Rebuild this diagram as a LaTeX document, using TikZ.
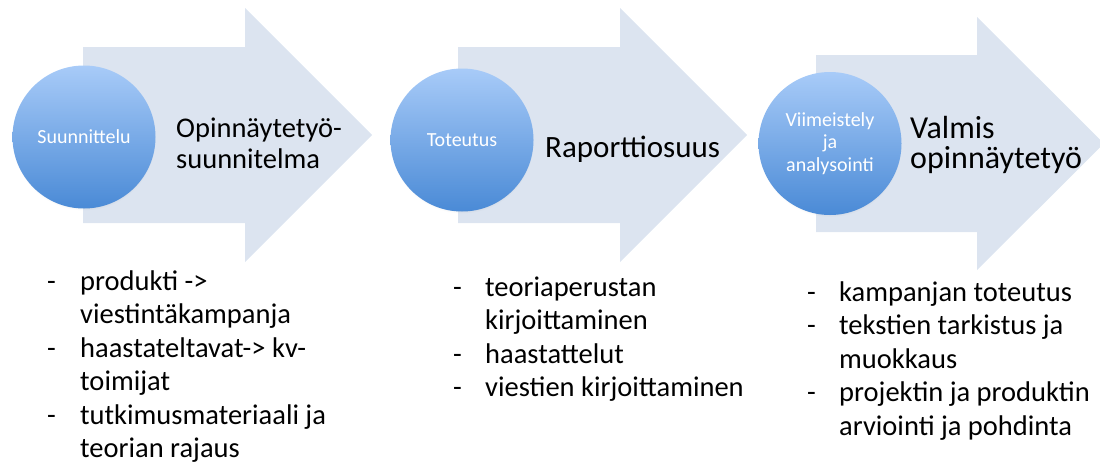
\documentclass[tikz,border=0pt]{standalone}
\usepackage{fontspec}
\setmainfont{Carlito}
\usetikzlibrary{shadows}
\definecolor{arrowfill}{HTML}{DCE4F0}
\definecolor{circtop}{HTML}{A8CBF8}
\definecolor{circbot}{HTML}{4A8AD6}
\tikzset{
  bigarrow/.style={fill=arrowfill, draw=none},
  circ/.style={circle, minimum size=143pt, inner sep=0pt, top color=circtop, bottom color=circbot, draw=none, text=white, align=center, font={\fontsize{20}{22.5}\selectfont}, circular drop shadow={shadow xshift=0pt, shadow yshift=-2pt, opacity=0.25, shadow scale=1.0}},
  headtext/.style={anchor=base west, align=left, inner sep=0pt},
  listtext/.style={anchor=base west, inner sep=0pt, font={\fontsize{28.5}{33.5}\selectfont}},
}
\begin{document}
\begin{tikzpicture}[x=1pt,y=-1pt]
\useasboundingbox (0,0) rectangle (1100,463);
% arrows
\fill[bigarrow] (83,47) -- (245,47) -- (245,8) -- (372,135) -- (245,262) -- (245,223) -- (83,223) -- cycle;
\fill[bigarrow] (458,47) -- (620,47) -- (620,8) -- (747,135) -- (620,262) -- (620,223) -- (458,223) -- cycle;
\fill[bigarrow] (816,55) -- (977,55) -- (977,17) -- (1104,143.5) -- (977,270) -- (977,232) -- (816,232) -- cycle;
% circles
\node[circ] (c1) at (84,137) {Suunnittelu};
\node[circ] (c2) at (462,140) {Toteutus};
\node[circ] (c3) at (830,143.5) {Viimeistely\\ja\\analysointi};
% titles (base anchor = last line baseline)
\node[headtext, font={\fontsize{28.5}{31}\selectfont}] (t1) at (176,168) {Opinnäytetyö-\\suunnitelma};
\node[headtext, font={\fontsize{31}{34}\selectfont}] (t2) at (545,157) {Raporttiosuus};
\node[headtext, font={\fontsize{32}{30}\selectfont}] (t3) at (910,168) {Valmis\\opinnäytetyö};
% lists
\node[listtext] (l1) at (47,290) {\begin{tabular}[t]{@{}p{33pt}@{}l@{}}
- & produkti -> \\
 & viestintäkampanja \\
- & haastateltavat-> kv- \\
 & toimijat \\
- & tutkimusmateriaali ja \\
 & teorian rajaus
\end{tabular}};
\node[listtext] (l2) at (453,296) {\begin{tabular}[t]{@{}p{32pt}@{}l@{}}
- & teoriaperustan \\
 & kirjoittaminen \\
- & haastattelut \\
- & viestien kirjoittaminen
\end{tabular}};
\node[listtext] (l3) at (807,301) {\begin{tabular}[t]{@{}p{32pt}@{}l@{}}
- & kampanjan toteutus \\
- & tekstien tarkistus ja \\
 & muokkaus \\
- & projektin ja produktin \\
 & arviointi ja pohdinta
\end{tabular}};
\end{tikzpicture}
\end{document}
